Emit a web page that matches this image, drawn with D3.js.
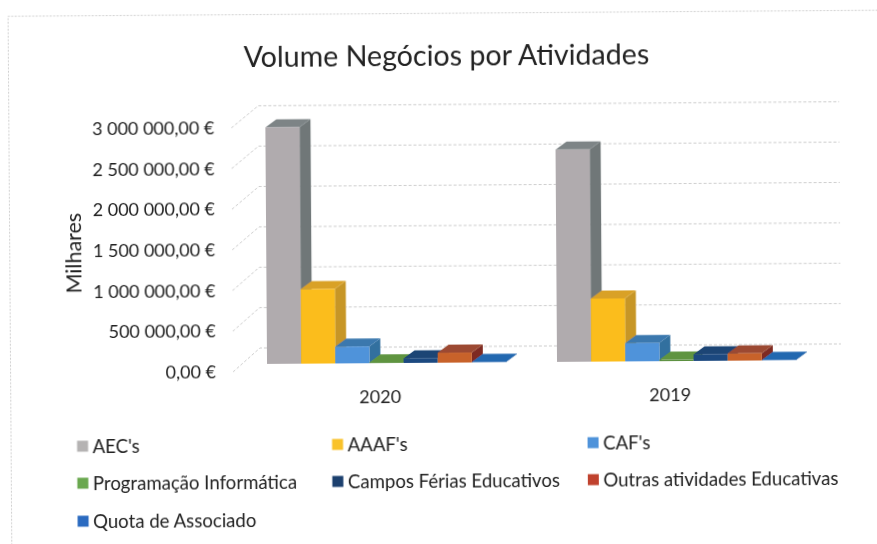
<!DOCTYPE html>
<html><head><meta charset="utf-8">
<script src="https://cdn.jsdelivr.net/npm/d3@7"></script>
<style>html,body{margin:0;padding:0;background:#fff}svg{display:block}text{font-family:Lato,"Open Sans",sans-serif;fill:#222}</style>
</head><body><svg id="c" width="877" height="544"></svg>
<script>
const years = ["2020","2019"];
const series = ["AEC's","AAAF's","CAF's","Programação Informática","Campos Férias Educativos","Outras atividades Educativas","Quota de Associado"];
const values2020 = [2920000,920000,207000,10000,57000,123000,5000];
const values2019 = [2620000,778000,225000,18000,81000,90000,5000];
const yTicks = [0,500000,1000000,1500000,2000000,2500000,3000000];
const frontColors = ["#b0abae","#fbbd1c","#4f93da","#5a8f3e","#1f4a80","#c8622c","#2467b0"];
const topColors = ["#7d8486","#d9a128","#3a78ae","#5f9440","#1b4474","#9c4a30","#2467b0"];
const sideColors = ["#6f7778","#c79627","#33709f","#4d7a35","#163a63","#7e2c22","#235c98"];
const legendColors = ["#b5b3b3","#f9c22a","#4f93da","#6aa84f","#1b3f6e","#c0432d","#2a6bc0"];
const seriesByYear = {"2020":values2020,"2019":values2019};

const svg = d3.select("#c");
const defs = svg.append("defs");
defs.append("filter").attr("id","scan").attr("x","-2%").attr("y","-2%").attr("width","104%").attr("height","104%")
  .append("feGaussianBlur").attr("stdDeviation",0.55);
const root = svg.append("g").attr("filter","url(#scan)").attr("transform","rotate(-0.4 400 360)");

root.append("path").attr("d","M10.5,560V13.6H890")
  .attr("fill","none").attr("stroke","#d0d0d0").attr("stroke-dasharray","2 1.5");

const yFront = d3.scaleLinear([0,3000000],[370.8,126.8]);
const yBack = d3.scaleLinear([0,3000000],[347,104.8]);
const yBar = d3.scaleLinear([0,3000000],[363,120]);
const xGroup = d3.scaleBand(years,[267,847]);
const xBar = d3.scaleBand(series,[0,239]);
const depthX = 11, depthY = 8;

root.append("text").attr("x",448.5).attr("y",56).attr("dy",".35em").attr("text-anchor","middle")
  .style("font-size","28.6px").text("Volume Negócios por Atividades");

const grid = root.append("g").attr("fill","none").attr("stroke","#cdcdcd").attr("stroke-dasharray","3 2");
grid.selectAll("path").data(yTicks).join("path")
  .attr("d",d=>`M233,${yFront(d)}L260,${yBack(d)}H841`);

const loc = d3.formatLocale({decimal:",",thousands:" ",grouping:[3],currency:["","€"]});
const fmt = loc.format(",.2f");
const axisY = root.append("g").attr("transform","translate(216,0)")
  .call(d3.axisLeft(yFront).tickValues(yTicks).tickSize(0).tickPadding(0).tickFormat(d=>fmt(d)+" €"));
axisY.select(".domain").remove();
axisY.selectAll("text").style("font-size","18px").attr("fill",null).style("font-family",'Lato,"Open Sans",sans-serif');

root.append("text").attr("transform","translate(74,251) rotate(-90)").attr("text-anchor","middle").attr("dy",".35em")
  .style("font-size","21.5px").text("Milhares");

const xAxisScale = d3.scaleOrdinal(years,years.map(y=>xGroup(y)+113));
years.forEach(yr=>{
  root.append("text").attr("x",xAxisScale(yr)).attr("y",397).attr("dy",".35em").attr("text-anchor","middle")
    .style("font-size","18px").text(yr);
  const g = root.append("g").attr("transform",`translate(${xGroup(yr)},0)`);
  const bars = g.selectAll("g").data(series.map((s,i)=>({s,i,v:seriesByYear[yr][i]}))).join("g");
  const w = xBar.bandwidth();
  bars.append("path").attr("fill",d=>sideColors[d.i])
    .attr("d",d=>{const x=xBar(d.s)+w,t=yBar(d.v),b=yBar(0);return `M${x},${t}l${depthX},${-depthY}V${b-depthY}L${x},${b}Z`;});
  bars.append("path").attr("fill",d=>topColors[d.i])
    .attr("d",d=>{const x=xBar(d.s),t=yBar(d.v);return `M${x},${t}l${depthX},${-depthY}h${w}l${-depthX},${depthY}Z`;});
  bars.append("rect").attr("fill",d=>frontColors[d.i])
    .attr("x",d=>xBar(d.s)).attr("y",d=>yBar(d.v)).attr("width",w).attr("height",d=>yBar(0)-yBar(d.v));
});

const legCols = [76.5,331.5,587];
const legRows = [444,481,519];
const leg = root.selectAll("g.leg").data(series).join("g").attr("class","leg")
  .attr("transform",(d,i)=>`translate(${legCols[i%3]},${legRows[Math.floor(i/3)]})`);
leg.append("rect").attr("y",-5.5).attr("width",11).attr("height",11).attr("fill",(d,i)=>legendColors[i]);
leg.append("text").attr("x",15.5).attr("dy",".35em").style("font-size","18.6px").text(d=>d);
</script></body></html>
